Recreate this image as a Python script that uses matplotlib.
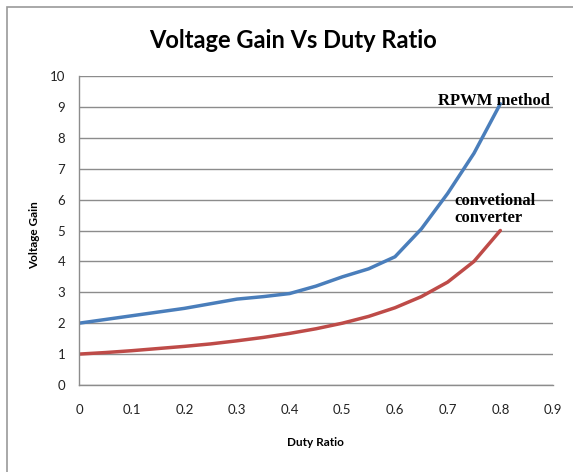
import matplotlib.pyplot as plt
from matplotlib.patches import Rectangle

# duty ratio points
duty = [0, 0.05, 0.1, 0.15, 0.2, 0.25, 0.3, 0.35, 0.4, 0.45, 0.5,
        0.55, 0.6, 0.65, 0.7, 0.75, 0.8]
rpwm = [2.0, 2.12, 2.24, 2.36, 2.48, 2.63, 2.78, 2.86, 2.96, 3.2, 3.5,
        3.76, 4.15, 5.05, 6.2, 7.5, 9.1]
conv = [1.0, 1.05, 1.11, 1.18, 1.25, 1.33, 1.43, 1.54, 1.67, 1.82, 2.0,
        2.22, 2.5, 2.86, 3.33, 4.0, 5.0]

xticks = [0, 0.1, 0.2, 0.3, 0.4, 0.5, 0.6, 0.7, 0.8, 0.9]
yticks = list(range(0, 11))

grid_col = '#8c8c8c'
sans = 'Lato'
serif = 'Liberation Serif'

fig = plt.figure(figsize=(5.73, 4.72), dpi=100)
ax = fig.add_axes([79/573, 1-385/472, (553-79)/573, (385-76)/472])

ax.plot(duty, rpwm, color='#4a7ebb', lw=2.5, solid_capstyle='round', solid_joinstyle='round')
ax.plot(duty, conv, color='#be4b48', lw=2.5, solid_capstyle='round', solid_joinstyle='round')

ax.set_xlim(0, 0.9)
ax.set_ylim(0, 10)
ax.set_xticks(xticks)
ax.set_xticklabels([('%g' % v) for v in xticks], fontfamily=sans)
ax.set_yticks(yticks)
ax.set_yticklabels([str(v) for v in yticks], fontfamily=sans)
ax.tick_params(length=0, labelsize=9.5, labelcolor='#222222', pad=10)
ax.tick_params(axis='x', pad=14)
ax.grid(axis='y', color=grid_col, lw=1)
ax.set_axisbelow(True)
for s in ['top', 'right']:
    ax.spines[s].set_visible(False)
for s in ['left', 'bottom']:
    ax.spines[s].set_color(grid_col)
    ax.spines[s].set_linewidth(1)

ax.text(0.681, 9.19, 'RPWM method', fontfamily=serif, fontweight='bold',
        fontsize=12, va='center', ha='left')
ax.text(0.712, 5.68, 'convetional\nconverter', fontfamily=serif, fontweight='bold',
        fontsize=12, va='center', ha='left', linespacing=1.1)

fig.text(293/573, 1-40/472, 'Voltage Gain Vs Duty Ratio', fontfamily=sans,
         fontweight='bold', fontsize=17, ha='center', va='center')
fig.text(315/573, 1-442/472, 'Duty Ratio', fontfamily=sans, fontweight='bold',
         fontsize=8.5, ha='center', va='center')
fig.text(35/573, 1-235/472, 'Voltage Gain', fontfamily=sans, fontweight='bold',
         fontsize=8.5, ha='center', va='center', rotation=90)

fig.add_artist(Rectangle((7/573, -0.1), 1.2, 1.1 - 7/472, transform=fig.transFigure,
                         fill=False, edgecolor='#9a9a9a', lw=1.2))

fig.savefig('out.png', dpi=100)
